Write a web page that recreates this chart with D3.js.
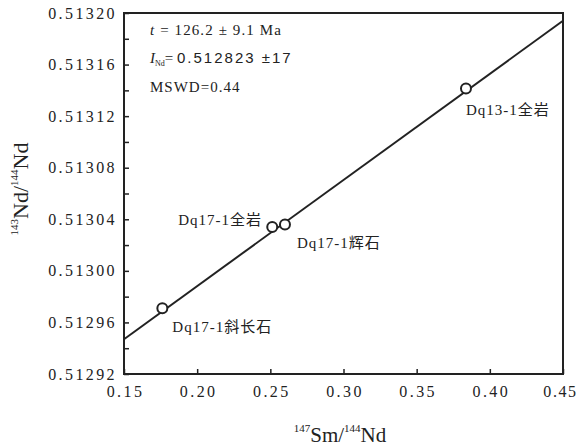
<!DOCTYPE html>
<html><head><meta charset="utf-8">
<script src="https://cdn.jsdelivr.net/npm/d3@7"></script>
<style>body{margin:0;background:#fff}svg text{fill:#222}</style>
</head><body>
<svg id="c" width="578" height="448"></svg>
<script>
const sampleNames = ["Dq17-1斜长石", "Dq17-1全岩", "Dq17-1辉石", "Dq13-1全岩"];
const smNd = [0.1762, 0.2513, 0.2600, 0.3837];
const ndNd = [0.512971, 0.513034, 0.513036, 0.5131415];
const isochronX = [0.15, 0.45];
const isochronY = [0.512947, 0.513194];
const xTicks = [0.15, 0.20, 0.25, 0.30, 0.35, 0.40, 0.45];
const yTicks = [0.51292, 0.51296, 0.51300, 0.51304, 0.51308, 0.51312, 0.51316, 0.51320];
const yMinor = [0.51294, 0.51298, 0.51302, 0.51306, 0.51310, 0.51314, 0.51318];

const svg = d3.select("#c");
const L = 124, R = 563, T = 13, B = 374;
const x = d3.scaleLinear().domain([0.15, 0.45]).range([L, R]);
const y = d3.scaleLinear().domain([0.51292, 0.51320]).range([B, T]);
const serif = "'Liberation Serif', 'Times New Roman', serif";
const sans = "'Liberation Sans', Arial, sans-serif";
const col = "#222";

// axes (ticks inward)
const xAxis = d3.axisBottom(x).tickValues(xTicks).tickSize(-5).tickPadding(12).tickFormat(d3.format(".2f"));
const gx = svg.append("g").attr("transform", `translate(0,${B})`).call(xAxis);
const yAxis = d3.axisLeft(y).tickValues(yTicks).tickSize(-5).tickPadding(7).tickFormat(d3.format(".5f"));
const gy = svg.append("g").attr("transform", `translate(${L},0)`).call(yAxis);
const gym = svg.append("g").attr("transform", `translate(${L},0)`).call(d3.axisLeft(y).tickValues(yMinor).tickSize(-5).tickFormat(""));
[gx, gy, gym].forEach(g => {
  g.attr("font-family", null).attr("font-size", null);
  g.select(".domain").remove();
  g.selectAll(".tick line").attr("stroke", col).attr("stroke-width", 1.5);
  g.selectAll(".tick text").style("font-family", serif).style("font-size", "16px")
    .style("letter-spacing", "2.4px").style("fill", col);
});
gx.selectAll(".tick text").attr("dx", "1px");
gx.selectAll(".tick text").filter(d => d === 0.45).attr("dx", "-3px").style("letter-spacing", "1.6px");

// frame
svg.append("rect").attr("x", L).attr("y", T).attr("width", R - L).attr("height", B - T)
  .attr("fill", "none").attr("stroke", col).attr("stroke-width", 2);

// isochron line
svg.append("line").attr("x1", x(isochronX[0])).attr("y1", y(isochronY[0]))
  .attr("x2", x(isochronX[1])).attr("y2", y(isochronY[1]))
  .attr("stroke", col).attr("stroke-width", 2);

// points
svg.selectAll("circle.p").data(smNd).enter().append("circle")
  .attr("cx", d => x(d)).attr("cy", (d, i) => y(ndNd[i])).attr("r", 5)
  .attr("fill", "#fff").attr("stroke", col).attr("stroke-width", 2);

// point labels
const labelOffsets = [[10, 24], [-94, -2], [12, 24], [0, 27]];
const labelFont = "'Liberation Serif', 'Noto Sans CJK SC', serif";
sampleNames.forEach((n, i) => {
  svg.append("text").attr("x", x(smNd[i]) + labelOffsets[i][0]).attr("y", y(ndNd[i]) + labelOffsets[i][1])
    .style("font-family", labelFont).style("font-size", "15px").style("letter-spacing", "1px").text(n);
});

// annotations
const a1 = svg.append("text").attr("x", 150).attr("y", 35).style("font-family", serif).style("font-size", "15px").style("letter-spacing", "1.1px");
a1.append("tspan").style("font-style", "italic").text("t");
a1.append("tspan").text(" = 126.2 ± 9.1 Ma");
const a2 = svg.append("text").attr("x", 150).attr("y", 63).style("font-family", serif).style("font-size", "15px");
a2.append("tspan").style("font-style", "italic").text("I");
a2.append("tspan").style("font-size", "8px").attr("dy", 3).text("Nd");
a2.append("tspan").attr("dy", -3).text("= ");
a2.append("tspan").style("font-family", sans).style("font-size", "15px").style("letter-spacing", "2px").text("0.512823 ±17");
svg.append("text").attr("x", 150).attr("y", 92).style("font-family", serif).style("font-size", "15px").style("letter-spacing", "1px").text("MSWD=0.44");

// axis titles
const xt = svg.append("text").attr("x", 340).attr("y", 442).attr("text-anchor", "middle")
  .style("font-family", serif).style("font-size", "21px");
xt.append("tspan").style("font-size", "11px").attr("dy", -10).text("147");
xt.append("tspan").attr("dy", 10).text("Sm/");
xt.append("tspan").style("font-size", "11px").attr("dy", -10).text("144");
xt.append("tspan").attr("dy", 10).text("Nd");

const yt = svg.append("text").attr("transform", "translate(28,189) rotate(-90)").attr("text-anchor", "middle")
  .style("font-family", serif).style("font-size", "22px");
yt.append("tspan").style("font-size", "11px").attr("dy", -10).text("143");
yt.append("tspan").attr("dy", 10).text("Nd/");
yt.append("tspan").style("font-size", "11px").attr("dy", -10).text("144");
yt.append("tspan").attr("dy", 10).text("Nd");
</script>
</body></html>
